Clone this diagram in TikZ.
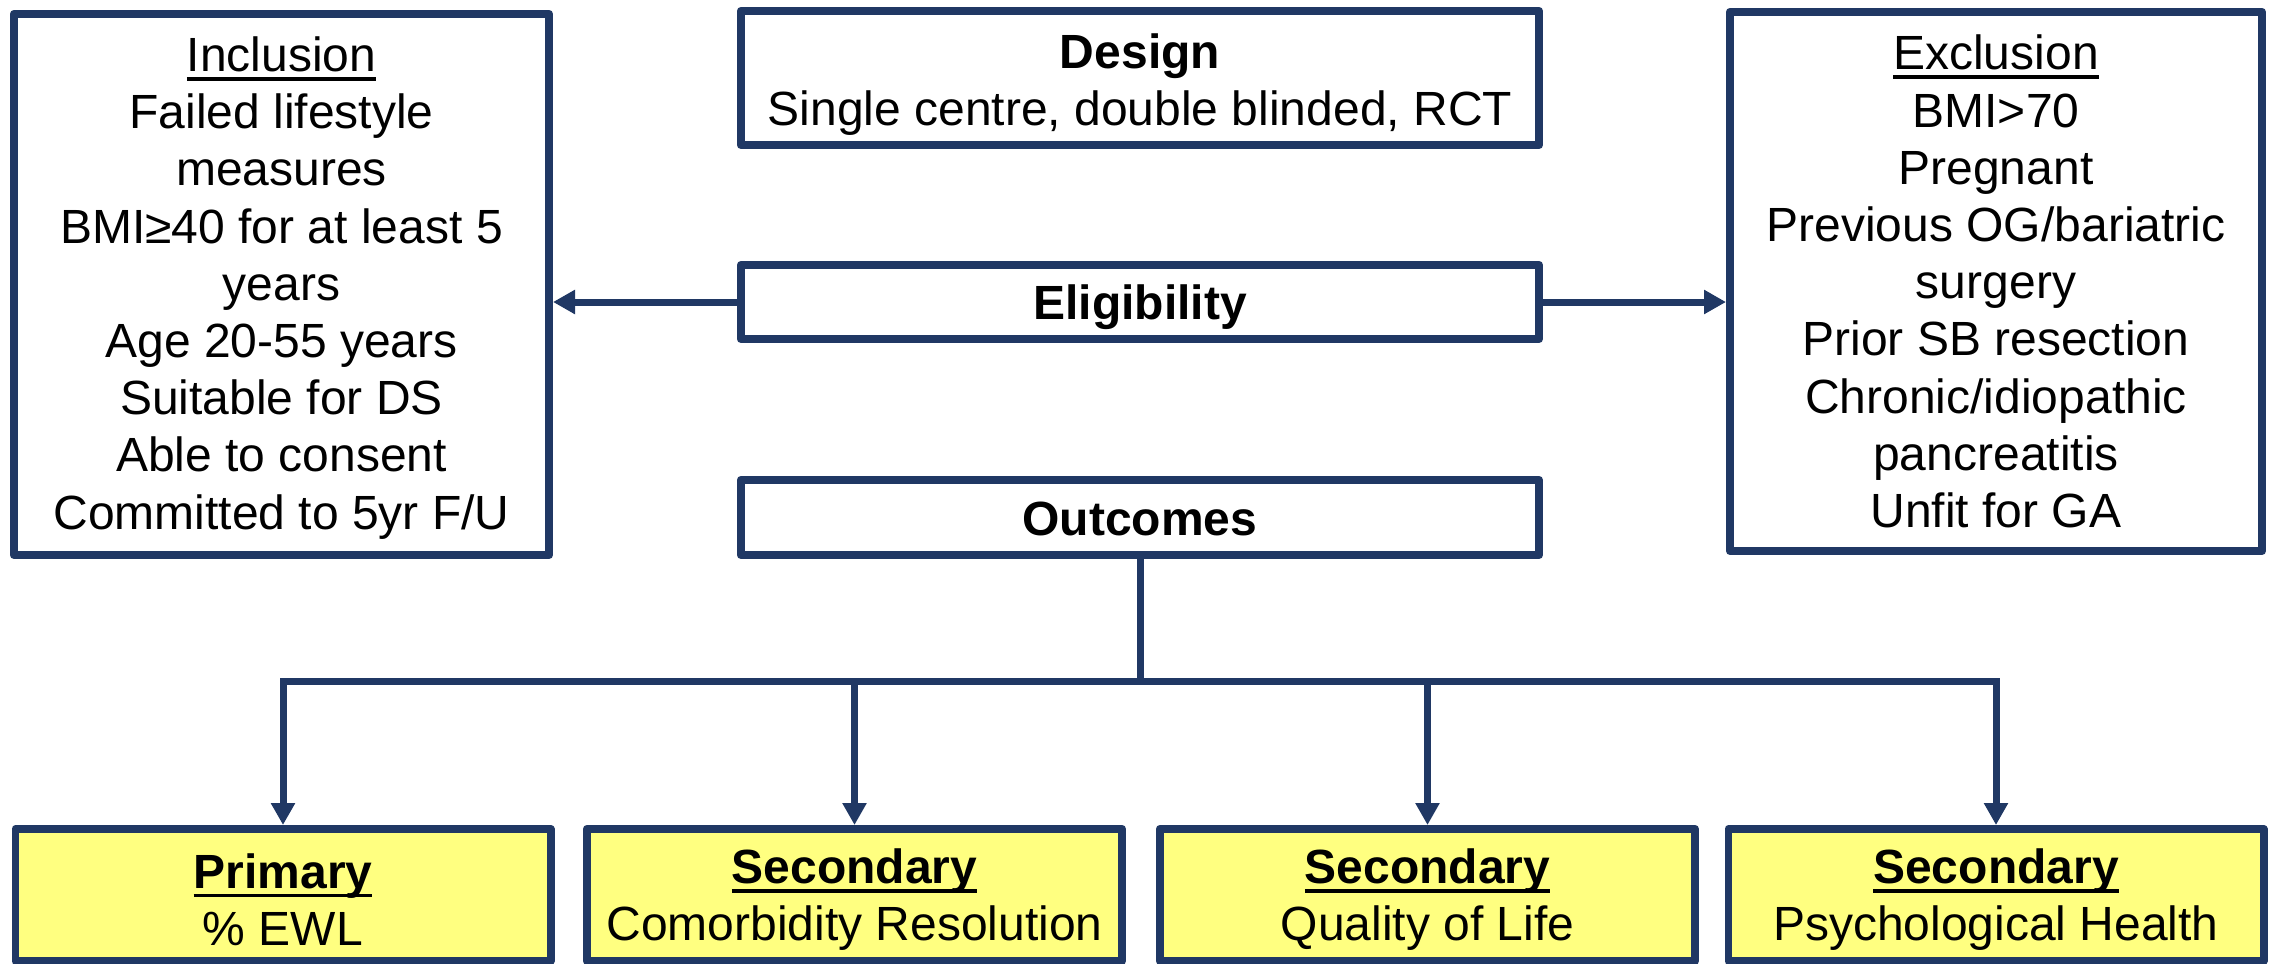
\documentclass[tikz,border=0pt]{standalone}
\usepackage{fontspec}
\setmainfont{Liberation Sans}
\usetikzlibrary{arrows.meta}
\definecolor{navy}{HTML}{203864}
\definecolor{paleyellow}{HTML}{FFFF80}
\newcommand{\ulword}[1]{\setbox0\hbox{#1}\rlap{\rule[-4.5pt]{\wd0}{1.8pt}}\box0}

\tikzset{
	box/.style={draw=navy, line width=3.8pt, fill=white, line join=round, align=center, inner sep=0pt,
		font=\fontsize{24pt}{28.6pt}\selectfont},
	widebox/.style={box, minimum width=399.2pt},
	oneline/.style={text height=17.6pt, text depth=0pt},
	outbox/.style={box, fill=paleyellow, minimum width=267.7pt, minimum height=66.2pt, text height=50.8pt},
	link/.style={draw=navy, line width=3.5pt},
	linkarrow/.style={link, -{Triangle[length=11pt,width=11.5pt]}}
}

\begin{document}
\begin{tikzpicture}[x=0.5pt, y=-0.5pt]
			\useasboundingbox (0,0) rectangle (2272,964);
			% top row
			\node[box, minimum width=267.7pt, minimum height=270.7pt, text height=249.6pt] (incl) at (281.5,284.5)
				{\ulword{Inclusion}\\Failed lifestyle\\measures\\BMI≥40 for at least 5\\years\\Age 20-55 years\\Suitable for DS\\Able to consent\\Committed to 5yr F/U};
			\node[widebox, minimum height=67.2pt, text height=52.4pt] (design) at (1140,78)
				{\textbf{Design}\\Single centre, double blinded, RCT};
			\node[widebox, oneline, minimum height=37.2pt] (elig) at (1140,302) {\textbf{Eligibility}};
			\node[widebox, oneline, minimum height=37.7pt] (outc) at (1140,517.5) {\textbf{Outcomes}};
			\node[box, minimum width=266.2pt, minimum height=269.7pt] (excl) at (1996,281.5)
				{\ulword{Exclusion}\\BMI>70\\Pregnant\\Previous OG/bariatric\\surgery\\Prior SB resection\\Chronic/idiopathic\\pancreatitis\\Unfit for GA};
			% outcome boxes
			\node[outbox] (prim) at (283,895) {\ulword{\textbf{Primary}}\\\% EWL};
			\node[outbox] (comorb) at (854.5,895) {\ulword{\textbf{Secondary}}\\Comorbidity Resolution};
			\node[outbox] (qol) at (1427.5,895) {\ulword{\textbf{Secondary}}\\Quality of Life};
			\node[outbox] (psych) at (1996,895) {\ulword{\textbf{Secondary}}\\Psychological Health};
			% connectors
			\coordinate (bus) at (1140,681);
			\draw[linkarrow] (elig.west) -- (elig.west -| incl.east);
			\draw[linkarrow] (elig.east) -- (elig.east -| excl.west);
			\draw[link] (outc.south) -- (bus);
			\draw[link, {Triangle[length=11pt,width=11.5pt]}-{Triangle[length=11pt,width=11.5pt]}]
				(prim.north) |- (bus -| psych.north) -- (psych.north);
			\foreach \n in {comorb,qol}
				\draw[linkarrow] (bus -| \n.north) -- (\n.north);
		\end{tikzpicture}
\end{document}
